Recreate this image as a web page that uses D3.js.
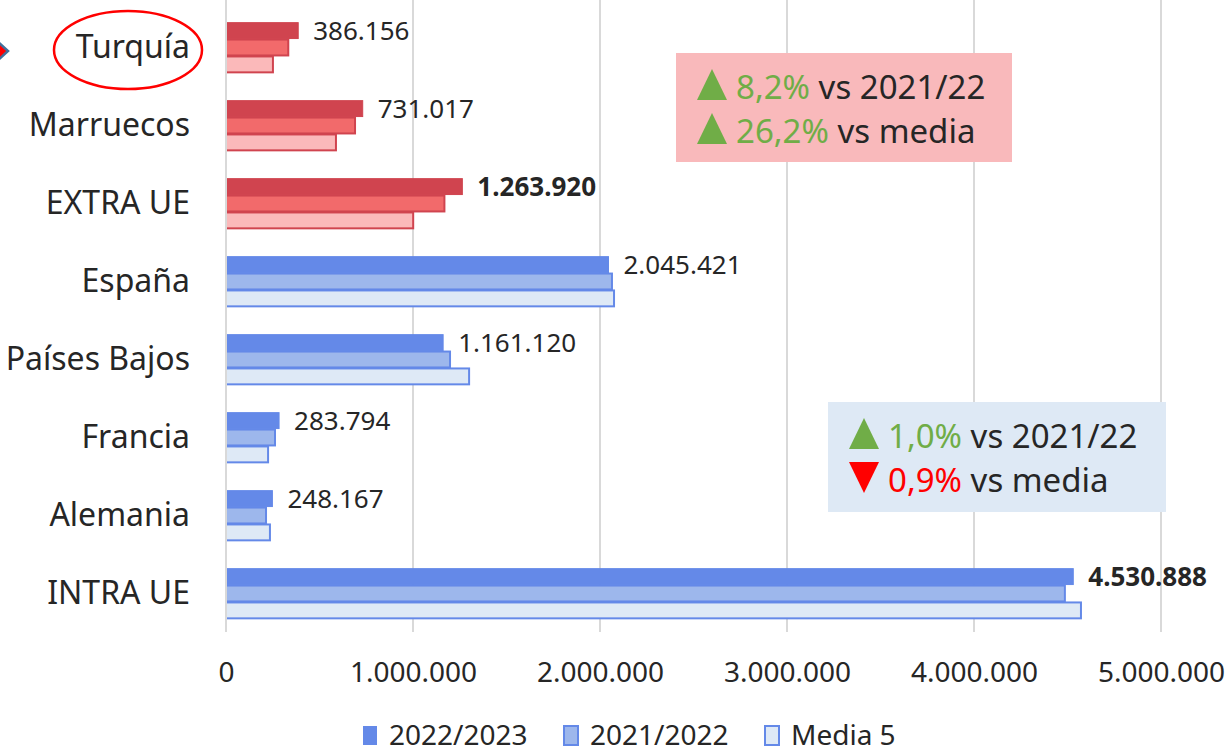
<!DOCTYPE html>
<html>
<head>
<meta charset="utf-8">
<script src="https://cdn.jsdelivr.net/npm/d3@7"></script>
<style>
  body { margin: 0; background: #fff; }
  svg text { font-family: "Noto Sans", sans-serif; fill: #262626; }
</style>
</head>
<body>
<div id="chart"></div>
<script>
// Chart data
var categories = ["Turquía", "Marruecos", "EXTRA UE", "España", "Países Bajos", "Francia", "Alemania", "INTRA UE"];
var seriesNames = ["2022/2023", "2021/2022", "Media 5"];
var values2223 = [386156, 731017, 1263920, 2045421, 1161120, 283794, 248167, 4530888];
var values2122 = [333000, 690000, 1168000, 2064000, 1198000, 262000, 214000, 4486000];
var valuesMedia = [251000, 588000, 1001000, 2075000, 1300000, 225000, 235000, 4572000];
var valueLabels = ["386.156", "731.017", "1.263.920", "2.045.421", "1.161.120", "283.794", "248.167", "4.530.888"];
var boldLabels = ["EXTRA UE", "INTRA UE"];
var extraCats = ["Turquía", "Marruecos", "EXTRA UE"];
var xTicks = [0, 1000000, 2000000, 3000000, 4000000, 5000000];
var xTickLabels = ["0", "1.000.000", "2.000.000", "3.000.000", "4.000.000", "5.000.000"];

// Annotation boxes
var extraNotes = [
    { up: true, pct: "8,2%", rest: " vs 2021/22" },
    { up: true, pct: "26,2%", rest: " vs media" }
];
var intraNotes = [
    { up: true, pct: "1,0%", rest: " vs 2021/22" },
    { up: false, pct: "0,9%", rest: " vs media" }
];

var W = 1232, H = 749;
var plotLeft = 226, plotTop = 8, plotBottom = 632;

var redFill = ["#D0444F", "#F26A6B", "#FBB9BA"];
var redStroke = "#D0444F";
var blueFill = ["#6489E8", "#9DB7EC", "#DEE9F6"];
var blueStroke = "#6489E8";

var svg = d3.select("#chart").append("svg")
    .attr("width", W)
    .attr("height", H);

// Scales
var x = d3.scaleLinear().domain([0, 5000000]).range([plotLeft, plotLeft + 935]);
var y = d3.scaleBand().domain(categories).range([plotTop, plotBottom])
    .paddingInner(0.35).paddingOuter(0.175);
var ySub = d3.scaleBand().domain(seriesNames).range([0, y.bandwidth()]);

// Gridlines
svg.append("g")
    .selectAll("line")
    .data(xTicks)
    .join("line")
    .attr("x1", function (d) { return x(d); })
    .attr("x2", function (d) { return x(d); })
    .attr("y1", 0)
    .attr("y2", plotBottom)
    .attr("stroke", "#D9D9D9")
    .attr("stroke-width", 2);

// x axis labels
var xAxis = d3.axisBottom(x)
    .tickValues(xTicks)
    .tickFormat(function (d, i) { return xTickLabels[i]; })
    .tickSize(0)
    .tickPadding(0);
var gx = svg.append("g")
    .attr("transform", "translate(0," + 662 + ")")
    .call(xAxis);
gx.select(".domain").remove();
gx.selectAll("text")
    .attr("dy", "0.7em")
    .style("font-size", "28px")
    .style("font-family", "Noto Sans")
    .attr("fill", "#262626");

// y axis labels
var yAxis = d3.axisLeft(y).tickSize(0).tickPadding(36);
var gy = svg.append("g")
    .attr("transform", "translate(" + plotLeft + ",1)")
    .call(yAxis);
gy.select(".domain").remove();
gy.selectAll("text")
    .style("font-size", "32px")
    .style("font-family", "Noto Sans")
    .attr("fill", "#262626");

// Bars
var seriesValues = [values2223, values2122, valuesMedia];
categories.forEach(function (cat, i) {
    var isExtra = extraCats.indexOf(cat) >= 0;
    var fills = isExtra ? redFill : blueFill;
    var stroke = isExtra ? redStroke : blueStroke;
    seriesNames.forEach(function (s, j) {
        svg.append("rect")
            .attr("x", x(0))
            .attr("y", y(cat) + ySub(s) + 1)
            .attr("width", x(seriesValues[j][i]) - x(0))
            .attr("height", ySub.bandwidth() - 1)
            .attr("fill", fills[j])
            .attr("stroke", stroke)
            .attr("stroke-width", j === 0 ? 1 : 2);
    });
    svg.append("text")
        .attr("x", x(values2223[i]) + 15)
        .attr("y", y(cat) + ySub.bandwidth() / 2 + 1)
        .attr("dy", "0.35em")
        .style("font-size", "26px")
        .style("font-weight", boldLabels.indexOf(cat) >= 0 ? "bold" : "normal")
        .text(valueLabels[i]);
});

// Category axis line
svg.append("line")
    .attr("x1", plotLeft).attr("x2", plotLeft)
    .attr("y1", 0).attr("y2", plotBottom)
    .attr("stroke", "#D9D9D9")
    .attr("stroke-width", 2);

// Annotation boxes
function drawNote(bx, by, bw, bh, fill, notes) {
    var g = svg.append("g").attr("transform", "translate(" + bx + "," + by + ")");
    g.append("rect").attr("width", bw).attr("height", bh).attr("fill", fill);
    notes.forEach(function (n, i) {
        var baseY = 46 + i * 44;
        var tx = 21;
        var tri = n.up
            ? [[tx, baseY + 1], [tx + 30, baseY + 1], [tx + 15, baseY - 30]]
            : [[tx, baseY - 30], [tx + 30, baseY - 30], [tx + 15, baseY + 1]];
        g.append("path")
            .attr("d", d3.line()(tri) + "Z")
            .attr("fill", n.up ? "#70AD47" : "#FF0000");
        var t = g.append("text")
            .attr("x", tx + 39)
            .attr("y", baseY)
            .style("font-size", "33px");
        t.append("tspan").style("fill", n.up ? "#70AD47" : "#FF0000").text(n.pct);
        t.append("tspan").text(n.rest);
    });
}
drawNote(676, 53, 336, 109, "#F9B9BB", extraNotes);
drawNote(828, 402, 338, 110, "#DEE9F5", intraNotes);

// Highlight ellipse around Turquía
svg.append("ellipse")
    .attr("cx", 128)
    .attr("cy", y("Turquía") + y.bandwidth() / 2 + 3)
    .attr("rx", 74)
    .attr("ry", 39)
    .attr("fill", "none")
    .attr("stroke", "#FF0000")
    .attr("stroke-width", 2.5);

// Arrow tip at left edge
svg.append("path")
    .attr("d", "M-4,40 L8,51 L-4,62 Z")
    .attr("fill", "#FF0000")
    .attr("stroke", "#41719C")
    .attr("stroke-width", 2.5);

// Legend
var legend = svg.append("g").attr("transform", "translate(362,725)");
seriesNames.forEach(function (s, j) {
    var g = legend.append("g").attr("transform", "translate(" + (j * 201) + ",0)");
    g.append("rect")
        .attr("x", 1).attr("y", 1)
        .attr("width", 14).attr("height", 19)
        .attr("fill", blueFill[j])
        .attr("stroke", blueStroke)
        .attr("stroke-width", j === 0 ? 0 : 2);
    g.append("text")
        .attr("x", 27)
        .attr("y", 10)
        .attr("dy", "0.35em")
        .style("font-size", "28px")
        .text(s);
});
</script>
</body>
</html>
